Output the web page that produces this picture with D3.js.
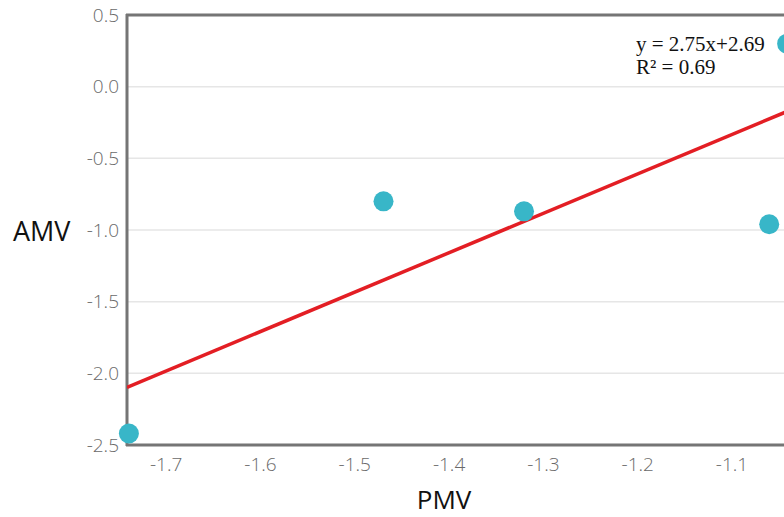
<!DOCTYPE html>
<html><head><meta charset="utf-8">
<script src="https://cdn.jsdelivr.net/npm/d3@7"></script>
<style>
html,body{margin:0;padding:0;background:#fff;overflow:hidden;}
svg{display:block;}
</style></head>
<body>
<script>
const pmv = [-1.739, -1.469, -1.320, -1.060, -1.041];
const amv = [-2.42, -0.80, -0.87, -0.96, 0.30];
const xTicks = [-1.7, -1.6, -1.5, -1.4, -1.3, -1.2, -1.1];
const yTicks = [0.5, 0.0, -0.5, -1.0, -1.5, -2.0, -2.5];
const fitSlope = 2.75;
const fitIntercept = 2.69;
const eqLines = ["y = 2.75x+2.69", "R² = 0.69"];

const W = 784, H = 517;
const svg = d3.select("body").append("svg").attr("width", W).attr("height", H);

const x = d3.scaleLinear().domain([-1.741, -1.03]).range([127, 797.5]);
const y = d3.scaleLinear().domain([-2.5, 0.5]).range([445, 15]);

// gridlines
svg.append("g").selectAll("line").data(yTicks).join("line")
  .attr("x1", 127).attr("x2", W)
  .attr("y1", d => y(d)).attr("y2", d => y(d))
  .attr("stroke", "#e6e6e6").attr("stroke-width", 1.5);

const fmt = d => d3.format(".1f")(d).replace("−", "-");

const yAxis = svg.append("g").attr("transform", "translate(127,0)")
  .call(d3.axisLeft(y).tickValues(yTicks).tickFormat(fmt).tickSize(0).tickPadding(8));
yAxis.select(".domain").remove();
yAxis.selectAll("text").attr("fill", "#6a6a6a").style("font-family", "'Open Sans', sans-serif")
  .style("font-size", "19px").style("font-weight", "300");

const xAxis = svg.append("g").attr("transform", "translate(0,445)")
  .call(d3.axisBottom(x).tickValues(xTicks).tickFormat(fmt).tickSize(0).tickPadding(13));
xAxis.select(".domain").remove();
xAxis.selectAll("text").attr("fill", "#6a6a6a").style("font-family", "'Open Sans', sans-serif")
  .style("font-size", "19px").style("font-weight", "300");

// frame
const frameColor = "#757575";
svg.append("line").attr("x1", 126).attr("x2", W).attr("y1", 15).attr("y2", 15).attr("stroke", frameColor).attr("stroke-width", 3);
svg.append("line").attr("x1", 126).attr("x2", W).attr("y1", 445).attr("y2", 445).attr("stroke", frameColor).attr("stroke-width", 3);
svg.append("line").attr("x1", 127).attr("x2", 127).attr("y1", 14).attr("y2", 446).attr("stroke", frameColor).attr("stroke-width", 3);

// fit line
const xd = x.domain();
svg.append("clipPath").attr("id", "plotclip").append("rect")
  .attr("x", 127).attr("y", 15).attr("width", W - 127).attr("height", 430);
svg.append("line").attr("clip-path", "url(#plotclip)")
  .attr("x1", x(xd[0])).attr("y1", y(fitSlope * xd[0] + fitIntercept))
  .attr("x2", x(xd[1])).attr("y2", y(fitSlope * xd[1] + fitIntercept))
  .attr("stroke", "#e31e24").attr("stroke-width", 3.5);

// points
svg.append("g").selectAll("circle").data(pmv.map((v, i) => [v, amv[i]])).join("circle")
  .attr("cx", d => x(d[0])).attr("cy", d => y(d[1])).attr("r", 10)
  .attr("fill", "#38b6c8");

// equation
svg.append("g").selectAll("text").data(eqLines).join("text")
  .attr("x", 636).attr("y", (d, i) => 51 + i * 23)
  .attr("fill", "#111").style("font-family", "'Liberation Serif', 'Times New Roman', serif")
  .style("font-size", "21px").text(d => d);

// axis titles
svg.append("text").attr("x", 13).attr("y", 241).attr("fill", "#111")
  .style("font-family", "'Open Sans', sans-serif").style("font-size", "27px").text("AMV");
svg.append("text").attr("x", 444).attr("y", 509).attr("text-anchor", "middle").attr("fill", "#111")
  .style("font-family", "'Open Sans', sans-serif").style("font-size", "26px").text("PMV");
</script>
</body></html>
